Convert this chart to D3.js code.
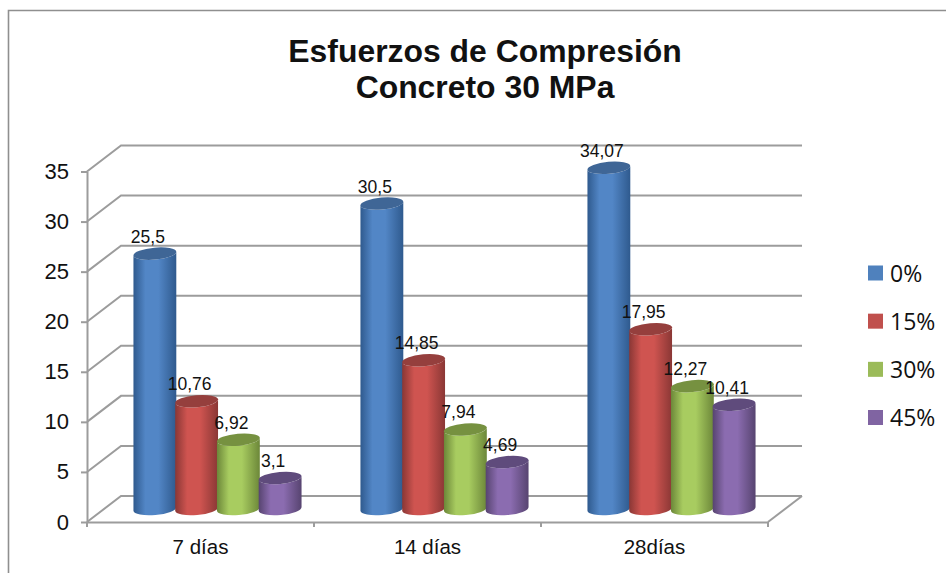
<!DOCTYPE html>
<html lang="es">
<head>
<meta charset="utf-8">
<title>Esfuerzos de Compresión</title>
<script src="https://cdn.jsdelivr.net/npm/d3@7"></script>
<style>
  html, body { margin: 0; padding: 0; background: #fff; }
  svg { display: block; }
  text { font-family: "Liberation Sans", Arial, sans-serif; fill: #111; }
</style>
</head>
<body>
<svg id="chart" width="946" height="573"></svg>
<script>
// Compressive strength (MPa) by curing age and replacement percentage
const categories = ["7 días", "14 días", "28días"];
const seriesNames = ["0%", "15%", "30%", "45%"];
const values0 = [25.5, 30.5, 34.07];
const values15 = [10.76, 14.85, 17.95];
const values30 = [6.92, 7.94, 12.27];
const values45 = [3.1, 4.69, 10.41];
const seriesValues = [values0, values15, values30, values45];
const valueLabels = [
  ["25,5", "30,5", "34,07"],
  ["10,76", "14,85", "17,95"],
  ["6,92", "7,94", "12,27"],
  ["3,1", "4,69", "10,41"]
];
const yTicks = [0, 5, 10, 15, 20, 25, 30, 35];
const titleLines = ["Esfuerzos de Compresión", "Concreto 30 MPa"];

// Cylinder shading per series: edge, highlight, cap
const palette = [
  { edge: "#2f5a8e", mid: "#5286c6", cap: "#3f6696", key: "#4f81bd" },
  { edge: "#8a3735", mid: "#cf5450", cap: "#953f3d", key: "#c0504d" },
  { edge: "#6c8739", mid: "#a8cc60", cap: "#769140", key: "#9bbb59" },
  { edge: "#574470", mid: "#8b6cb0", cap: "#5f4b7c", key: "#8064a2" }
];

const svg = d3.select("#chart");
const depthX = 34, depthY = 26;      // offset from front plane to back wall
const frontLeft = 87, frontRight = 768, frontBase = 522;

const y = d3.scaleLinear().domain([0, 35]).range([frontBase, frontBase - 350.5]);
const xFront = d3.scaleBand().domain(categories).range([frontLeft, frontRight]);
// Bars stand half way between the front plane and the back wall
const xBars = d3.scaleBand().domain(categories)
  .range([frontLeft + depthX / 2, frontRight + depthX / 2]);
const xSeries = d3.scaleBand().domain(seriesNames)
  .range([30, xBars.bandwidth() - 30]);

// Chart frame, open on the right and bottom
svg.append("path")
  .attr("d", "M8.5,573V10.5H946")
  .attr("fill", "none").attr("stroke", "#8f8f8f").attr("stroke-width", 1.6);

// Title
svg.append("g").selectAll("text").data(titleLines).join("text")
  .attr("x", 485).attr("y", (d, i) => 62 + i * 36)
  .attr("text-anchor", "middle")
  .attr("font-weight", "bold").attr("font-size", 31.9)
  .text(d => d);

// Back wall gridlines with their diagonals along the side wall
const grid = svg.append("g")
  .attr("fill", "none").attr("stroke", "#9c9c9c").attr("stroke-width", 2);
grid.selectAll("path").data(yTicks).join("path")
  .attr("d", d => {
    const py = y(d);
    return `M${frontLeft},${py}L${frontLeft + depthX},${py - depthY}H${frontRight + depthX}`;
  });
// Right edge of the floor
grid.append("path")
  .attr("d", `M${frontRight},${frontBase}L${frontRight + depthX},${frontBase - depthY}`);

// Value axis
const yAxis = svg.append("g")
  .attr("transform", `translate(${frontLeft},0)`)
  .call(d3.axisLeft(y).tickValues(yTicks).tickSize(6).tickPadding(12).tickSizeOuter(0));
yAxis.selectAll("path, line").attr("stroke", "#9c9c9c").attr("stroke-width", 2);
yAxis.selectAll("text").attr("font-size", 22).attr("font-family", "Liberation Sans").attr("fill", "#111");

// Category axis: labels at band centres, ticks on band edges
const xAxis = svg.append("g")
  .attr("transform", `translate(0,${frontBase})`)
  .call(d3.axisBottom(xFront).tickSize(0).tickPadding(17));
xAxis.select("path").attr("stroke", "#9c9c9c").attr("stroke-width", 2);
xAxis.selectAll("text").attr("font-size", 20.5).attr("font-family", "Liberation Sans").attr("fill", "#111");
const edges = categories.map(c => xFront(c)).concat(frontRight);
xAxis.selectAll("line.edge").data(edges).join("line")
  .attr("class", "edge")
  .attr("x1", d => d).attr("x2", d => d).attr("y1", 0).attr("y2", 5)
  .attr("stroke", "#9c9c9c").attr("stroke-width", 2);

// Horizontal gradient that gives each cylinder its roundness
const defs = svg.append("defs");
palette.forEach((p, i) => {
  const g = defs.append("linearGradient").attr("id", `cyl${i}`)
    .attr("x1", 0).attr("x2", 1).attr("y1", 0).attr("y2", 0);
  g.append("stop").attr("offset", "0%").attr("stop-color", p.edge);
  g.append("stop").attr("offset", "28%").attr("stop-color", p.mid);
  g.append("stop").attr("offset", "58%").attr("stop-color", p.mid);
  g.append("stop").attr("offset", "100%").attr("stop-color", p.edge);
});

// Cylinders
const tilt = 5;                      // ellipse rotation in degrees
const rx = 21.5, ry = 6;
const barBase = y(0) - depthY / 2;
const height = v => y(0) - y(v);
const dx = rx * Math.cos(tilt * Math.PI / 180);
const dy = rx * Math.sin(tilt * Math.PI / 180);

const bars = seriesNames.flatMap((s, si) => categories.map((c, ci) => ({
  si, ci,
  v: seriesValues[si][ci],
  label: valueLabels[si][ci],
  cx: xBars(c) + xSeries(s) + xSeries.bandwidth() / 2
})));

const barG = svg.append("g").selectAll("g").data(bars).join("g");
barG.append("path")
  .attr("fill", d => `url(#cyl${d.si})`)
  .attr("d", d => {
    const top = barBase - height(d.v);
    return `M${d.cx - dx},${top + dy}L${d.cx - dx},${barBase + dy}` +
      `A${rx},${ry} ${-tilt} 0 0 ${d.cx + dx},${barBase - dy}` +
      `L${d.cx + dx},${top - dy}` +
      `A${rx},${ry} ${-tilt} 0 1 ${d.cx - dx},${top + dy}Z`;
  });
barG.append("ellipse")
  .attr("rx", rx).attr("ry", ry)
  .attr("fill", d => palette[d.si].cap)
  .attr("transform", d => `translate(${d.cx},${barBase - height(d.v)}) rotate(${-tilt})`);

// Data labels above the caps, shifted slightly left as in a 3-D projection
svg.append("g").selectAll("text").data(bars).join("text")
  .attr("x", d => d.cx - 7)
  .attr("y", d => barBase - height(d.v) - 11)
  .attr("text-anchor", "middle").attr("font-size", 17.5)
  .text(d => d.label);

// Legend
const legendY = d3.scalePoint().domain(seriesNames).range([273, 417.5]);
const legend = svg.append("g").selectAll("g").data(seriesNames).join("g")
  .attr("transform", d => `translate(868,${legendY(d)})`);
legend.append("rect")
  .attr("x", 0).attr("y", -7.5).attr("width", 15).attr("height", 15)
  .attr("fill", (d, i) => palette[i].key);
legend.append("text")
  .attr("x", 22).attr("y", 8.5)
  .attr("font-size", 23)
  .style("font-family", '"Open Sans", sans-serif')
  .text(d => d);
</script>
</body>
</html>
